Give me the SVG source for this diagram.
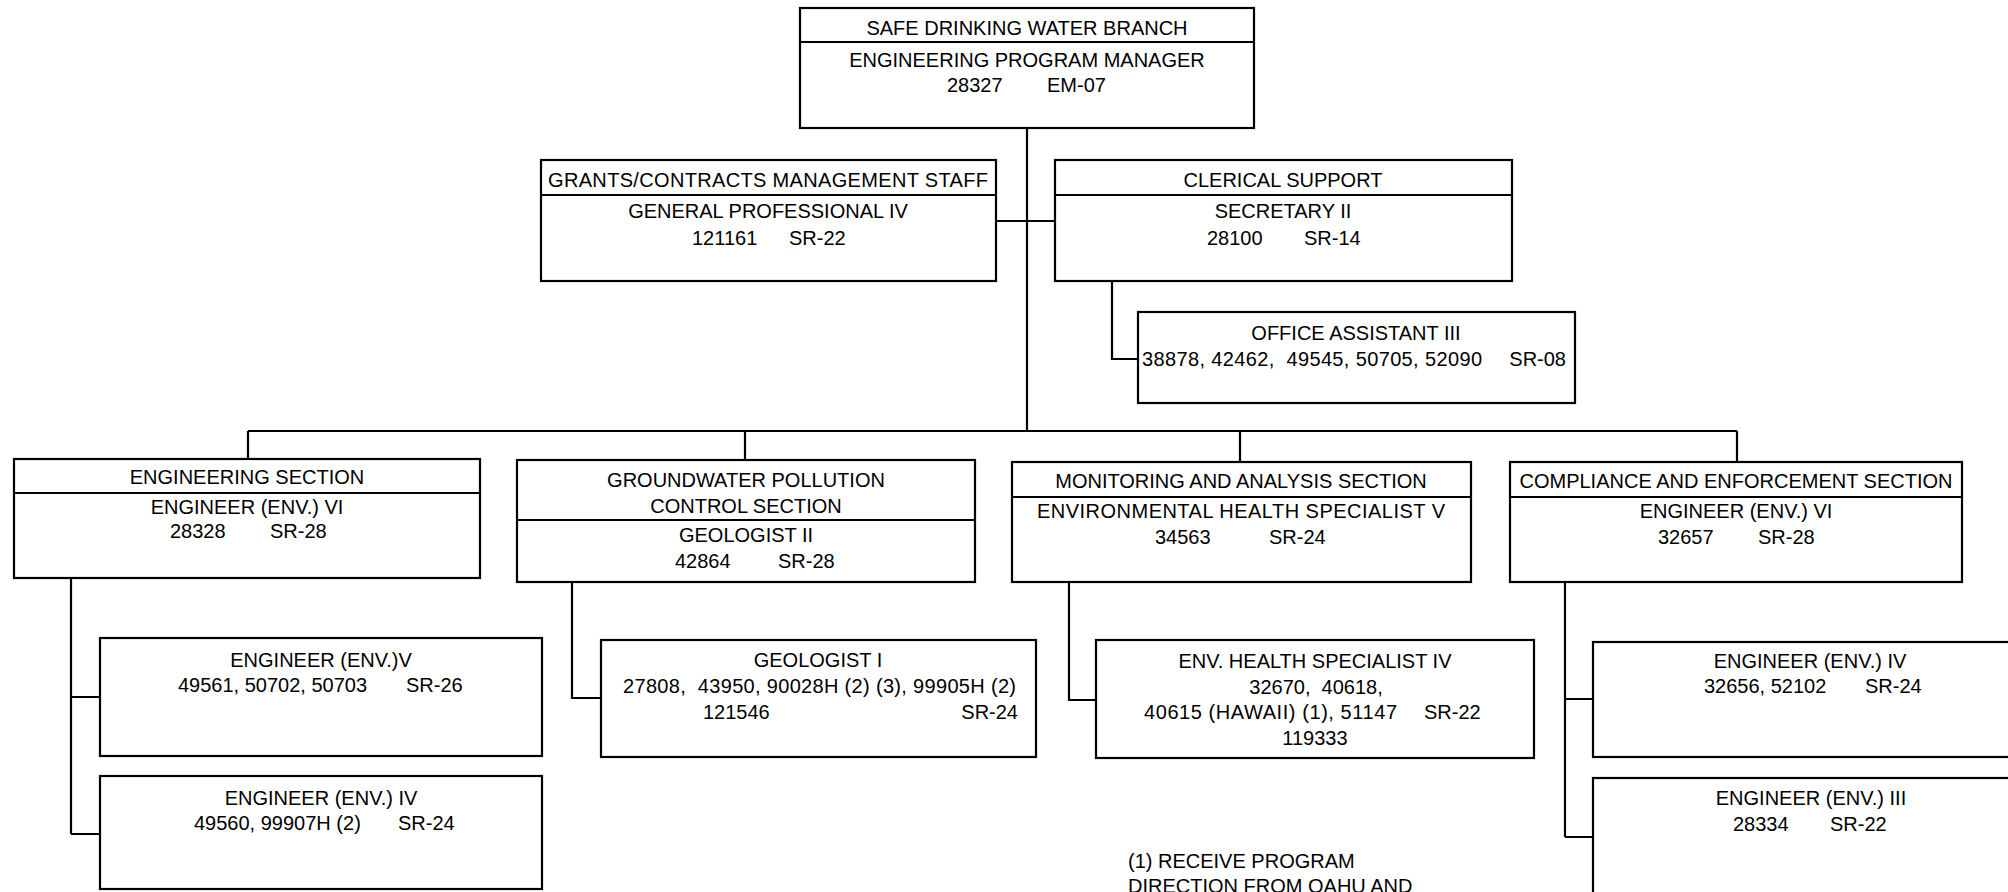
<svg xmlns="http://www.w3.org/2000/svg" width="2008" height="892" viewBox="0 0 2008 892">
<style>
.box{fill:#fff;stroke:#000;stroke-width:2.2}
.div{stroke:#000;stroke-width:1.8;fill:none}
.con{stroke:#000;stroke-width:2.2;fill:none}
text{font-family:"Liberation Sans",Arial,sans-serif;font-size:20px;fill:#000;white-space:pre}
.c{text-anchor:middle}
.e{text-anchor:end}
</style>
<rect width="2008" height="892" fill="#fff"/>
<g id="connectors">
<path class="con" d="M1027 128V431M996 221H1055M1112 281V359H1138M248 431H1737M248 431V459M745 431V460M1240 431V462M1737 431V462M71 578V834M71 697H100M71 834H100M572 582V698H601M1069 582V700H1096M1565 582V837M1565 699H1593M1565 837H1593"/>
</g>
<g id="branch">
<rect class="box" x="800" y="8" width="454" height="120"/>
<line class="div" x1="800" y1="42" x2="1254" y2="42"/>
<text class="c" x="1027" y="35">SAFE DRINKING WATER BRANCH</text>
<text class="c" x="1027" y="67">ENGINEERING PROGRAM MANAGER</text>
<text y="92"><tspan x="947">28327</tspan><tspan x="1047">EM-07</tspan></text>
</g>
<g id="grants">
<rect class="box" x="541" y="160" width="455" height="121"/>
<line class="div" x1="541" y1="195" x2="996" y2="195"/>
<text class="c" x="768" y="187" textLength="440" lengthAdjust="spacing">GRANTS/CONTRACTS MANAGEMENT STAFF</text>
<text class="c" x="768" y="218">GENERAL PROFESSIONAL IV</text>
<text y="245"><tspan x="692">121161</tspan><tspan x="789">SR-22</tspan></text>
</g>
<g id="clerical">
<rect class="box" x="1055" y="160" width="457" height="121"/>
<line class="div" x1="1055" y1="195" x2="1512" y2="195"/>
<text class="c" x="1283" y="187">CLERICAL SUPPORT</text>
<text class="c" x="1283" y="218">SECRETARY II</text>
<text y="245"><tspan x="1207">28100</tspan><tspan x="1304">SR-14</tspan></text>
</g>
<g id="office-assistant">
<rect class="box" x="1138" y="312" width="437" height="91"/>
<text class="c" x="1356" y="340">OFFICE ASSISTANT III</text>
<text x="1142" y="366" textLength="340" lengthAdjust="spacing">38878, 42462,  49545, 50705, 52090</text>
<text class="e" x="1566" y="366">SR-08</text>
</g>
<g id="engineering-section">
<rect class="box" x="14" y="459" width="466" height="119"/>
<line class="div" x1="14" y1="493" x2="480" y2="493"/>
<text class="c" x="247" y="484">ENGINEERING SECTION</text>
<text class="c" x="247" y="514">ENGINEER (ENV.) VI</text>
<text y="538"><tspan x="170">28328</tspan><tspan x="270">SR-28</tspan></text>
</g>
<g id="groundwater-section">
<rect class="box" x="517" y="460" width="458" height="122"/>
<line class="div" x1="517" y1="520" x2="975" y2="520"/>
<text class="c" x="746" y="487">GROUNDWATER POLLUTION</text>
<text class="c" x="746" y="513">CONTROL SECTION</text>
<text class="c" x="746" y="542">GEOLOGIST II</text>
<text y="568"><tspan x="675">42864</tspan><tspan x="778">SR-28</tspan></text>
</g>
<g id="monitoring-section">
<rect class="box" x="1012" y="462" width="459" height="120"/>
<line class="div" x1="1012" y1="497" x2="1471" y2="497"/>
<text class="c" x="1241" y="488">MONITORING AND ANALYSIS SECTION</text>
<text class="c" x="1241" y="518" textLength="408" lengthAdjust="spacing">ENVIRONMENTAL HEALTH SPECIALIST V</text>
<text y="544"><tspan x="1155">34563</tspan><tspan x="1269">SR-24</tspan></text>
</g>
<g id="compliance-section">
<rect class="box" x="1510" y="462" width="452" height="120"/>
<line class="div" x1="1510" y1="497" x2="1962" y2="497"/>
<text class="c" x="1736" y="488">COMPLIANCE AND ENFORCEMENT SECTION</text>
<text class="c" x="1736" y="518">ENGINEER (ENV.) VI</text>
<text y="544"><tspan x="1658">32657</tspan><tspan x="1758">SR-28</tspan></text>
</g>
<g id="engineer-v">
<rect class="box" x="100" y="638" width="442" height="118"/>
<text class="c" x="321" y="667">ENGINEER (ENV.)V</text>
<text y="692"><tspan x="178">49561, 50702, 50703</tspan><tspan x="406">SR-26</tspan></text>
</g>
<g id="engineer-iv-eng">
<rect class="box" x="100" y="776" width="442" height="113"/>
<text class="c" x="321" y="805">ENGINEER (ENV.) IV</text>
<text y="830"><tspan x="194">49560, 99907H (2)</tspan><tspan x="398">SR-24</tspan></text>
</g>
<g id="geologist-i">
<rect class="box" x="601" y="640" width="435" height="117"/>
<text class="c" x="818" y="667">GEOLOGIST I</text>
<text x="623" y="693" textLength="393" lengthAdjust="spacing">27808,  43950, 90028H (2) (3), 99905H (2)</text>
<text x="703" y="719">121546</text>
<text class="e" x="1018" y="719">SR-24</text>
</g>
<g id="ehs-iv">
<rect class="box" x="1096" y="640" width="438" height="118"/>
<text class="c" x="1315" y="668">ENV. HEALTH SPECIALIST IV</text>
<text class="c" x="1316" y="694">32670,  40618,</text>
<text y="719"><tspan x="1144" textLength="253" lengthAdjust="spacing">40615 (HAWAII) (1), 51147</tspan><tspan x="1424">SR-22</tspan></text>
<text class="c" x="1315" y="745">119333</text>
</g>
<g id="engineer-iv-ce">
<rect class="box" x="1593" y="642" width="440" height="115"/>
<text class="c" x="1810" y="668">ENGINEER (ENV.) IV</text>
<text y="693"><tspan x="1704">32656, 52102</tspan><tspan x="1865">SR-24</tspan></text>
</g>
<g id="engineer-iii">
<rect class="box" x="1593" y="778" width="440" height="130"/>
<text class="c" x="1811" y="805">ENGINEER (ENV.) III</text>
<text y="831"><tspan x="1733">28334</tspan><tspan x="1830">SR-22</tspan></text>
</g>
<g id="note">
<text x="1128" y="868">(1) RECEIVE PROGRAM</text>
<text x="1128" y="893">DIRECTION FROM OAHU AND</text>
</g>
</svg>
